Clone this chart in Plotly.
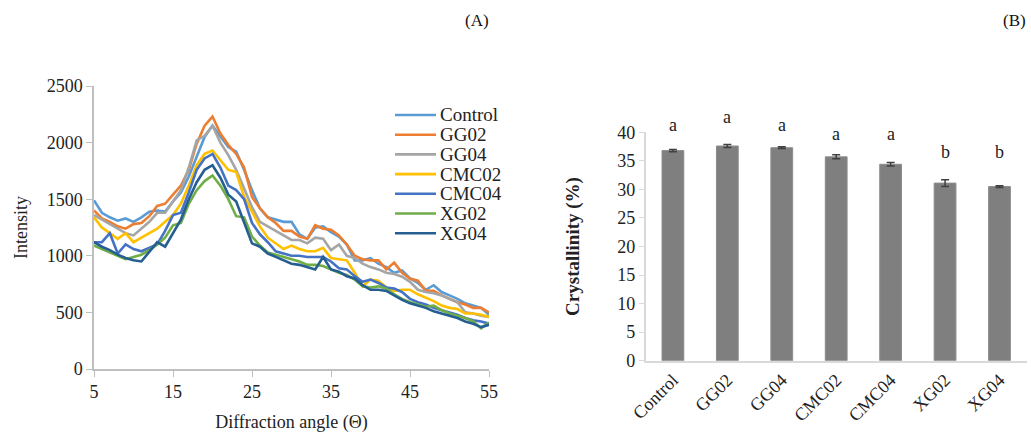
import plotly.graph_objects as go

angles = list(range(5, 56))

control = [1490, 1380, 1340, 1310, 1330, 1300, 1340, 1390, 1400, 1390,
           1480, 1560, 1700, 1880, 2050, 2150, 2060, 1960, 1920, 1760,
           1580, 1420, 1340, 1320, 1300, 1300, 1190, 1150, 1250, 1260,
           1210, 1170, 1100, 960, 960, 980, 930, 900, 850, 870,
           800, 760, 700, 740, 680, 650, 620, 580, 560, 540, 480]
gg02 = [1400, 1330, 1300, 1260, 1240, 1280, 1290, 1350, 1440, 1460,
        1540, 1620, 1760, 1990, 2150, 2230, 2080, 1980, 1900, 1780,
        1520, 1420, 1340, 1290, 1220, 1220, 1170, 1150, 1270, 1240,
        1230, 1180, 1100, 1000, 970, 960, 960, 880, 940, 850,
        800, 780, 690, 690, 650, 620, 590, 570, 540, 540, 500]
gg04 = [1360, 1320, 1280, 1240, 1200, 1180, 1240, 1300, 1380, 1380,
        1480, 1580, 1780, 2020, 2060, 2150, 2000, 1890, 1760, 1600,
        1430, 1300, 1260, 1220, 1180, 1140, 1140, 1110, 1160, 1150,
        1050, 1100, 1000, 980, 930, 900, 880, 850, 840, 815,
        770, 700, 680, 670, 650, 620, 590, 500, 490, 470, 460]
cmc02 = [1340, 1250, 1200, 1150, 1200, 1120, 1160, 1200, 1240, 1300,
         1360, 1460, 1620, 1800, 1900, 1930, 1840, 1760, 1740, 1520,
         1390, 1260, 1160, 1110, 1060, 1090, 1060, 1040, 1040, 1070,
         980, 970, 960, 850, 730, 790, 780, 720, 690, 700,
         700, 660, 630, 600, 560, 540, 530, 490, 490, 480, 460]
cmc04 = [1120, 1120, 1200, 1020, 1100, 1060, 1040, 1070, 1100, 1220,
         1360, 1380, 1560, 1760, 1860, 1900, 1780, 1620, 1580, 1500,
         1290, 1190, 1120, 1040, 1020, 1000, 1000, 990, 990, 990,
         950, 890, 880, 820, 770, 790, 760, 720, 710, 680,
         620, 590, 570, 540, 520, 500, 480, 450, 430, 420, 400]
xg02 = [1090, 1060, 1030, 1000, 970, 990, 1010, 1050, 1100, 1160,
        1270, 1290, 1460, 1580, 1660, 1710, 1620, 1500, 1350, 1340,
        1170, 1090, 1030, 1010, 990, 970, 950, 920, 920, 910,
        880, 850, 830, 790, 730, 720, 730, 710, 660, 620,
        590, 570, 550, 560, 520, 490, 470, 450, 420, 360, 410]
xg04 = [1120, 1080, 1050, 1010, 980, 960, 950, 1030, 1120, 1080,
        1200, 1320, 1500, 1650, 1760, 1800, 1690, 1540, 1480, 1300,
        1110, 1080, 1020, 990, 960, 930, 920, 900, 880, 990,
        880, 860, 820, 800, 740, 700, 700, 690, 650, 610,
        580, 560, 540, 510, 490, 470, 450, 420, 400, 370, 390]

series_names = ["Control", "GG02", "GG04", "CMC02", "CMC04", "XG02", "XG04"]
series_values = [control, gg02, gg04, cmc02, cmc04, xg02, xg04]
series_colors = ["#5B9BD5", "#ED7D31", "#A5A5A5", "#FFC000", "#4472C4", "#70AD47", "#255E91"]

bar_categories = ["Control", "GG02", "GG04", "CMC02", "CMC04", "XG02", "XG04"]
crystallinity = [36.8, 37.6, 37.3, 35.7, 34.4, 31.1, 30.5]
cryst_err = [0.2, 0.25, 0.15, 0.35, 0.3, 0.6, 0.15]
sig_letters = ["a", "a", "a", "a", "a", "b", "b"]
letter_y = [41.3, 42.7, 41.3, 39.7, 39.7, 36.6, 36.6]

FONT = "Liberation Serif"
W, H = 1031, 433
TXT = "#222222"


def px(x):
    return x / W


def py(y):
    return 1 - y / H


fig = go.Figure()
for name, vals, col in zip(series_names, series_values, series_colors):
    fig.add_trace(go.Scatter(x=angles, y=vals, mode="lines", name=name,
                             line=dict(color=col, width=2.6),
                             xaxis="x", yaxis="y", showlegend=False))

fig.add_trace(go.Bar(x=bar_categories, y=crystallinity, xaxis="x2", yaxis="y2",
                     marker=dict(color="#7F7F7F", line=dict(color="#8C8C8C", width=1)),
                     error_y=dict(type="data", array=cryst_err, visible=True,
                                  color="#404040", thickness=1.5, width=4),
                     showlegend=False))

y2_max = 40.0
for cat, ly, lt in zip(bar_categories, letter_y, sig_letters):
    fig.add_annotation(x=cat, y=ly / y2_max, xref="x2", yref="y2 domain", text=lt,
                       xanchor="center", yanchor="middle",
                       showarrow=False, font=dict(family=FONT, size=18, color=TXT))

# manual legend (line samples + labels)
leg_top = 115
leg_step = 19.7
for i, (name, col) in enumerate(zip(series_names, series_colors)):
    yy = py(leg_top + i * leg_step)
    fig.add_shape(type="line", xref="paper", yref="paper",
                  x0=px(395), x1=px(436), y0=yy, y1=yy,
                  line=dict(color=col, width=2.6))
    fig.add_annotation(x=px(438), y=yy, xref="paper", yref="paper", text=name,
                       xanchor="left", yanchor="middle", showarrow=False,
                       font=dict(family=FONT, size=19, color=TXT))

fig.add_annotation(x=px(477), y=py(20), xref="paper", yref="paper", text="(A)",
                   xanchor="center", yanchor="middle",
                   showarrow=False, font=dict(family=FONT, size=17, color="#111111"))
fig.add_annotation(x=px(1014), y=py(20), xref="paper", yref="paper", text="(B)",
                   xanchor="center", yanchor="middle",
                   showarrow=False, font=dict(family=FONT, size=17, color="#111111"))

axis_font = dict(family=FONT, size=18, color=TXT)

fig.update_layout(
    width=W, height=H,
    margin=dict(l=0, r=0, t=0, b=0, autoexpand=False),
    paper_bgcolor="white", plot_bgcolor="white",
    font=dict(family=FONT, size=18, color=TXT),
    xaxis=dict(domain=[px(94), px(489)], range=[5, 55], tickvals=[5, 15, 25, 35, 45, 55],
               showgrid=False, zeroline=False, showline=True, linecolor="#BFBFBF", linewidth=1.5,
               ticks="outside", ticklen=6, tickcolor="#BFBFBF", tickfont=axis_font,
               title=dict(text="Diffraction angle (Θ)", font=axis_font, standoff=16),
               automargin=False, anchor="y"),
    yaxis=dict(domain=[py(369), py(86)], range=[0, 2500], dtick=500,
               showgrid=False, zeroline=False, showline=True, linecolor="#BFBFBF", linewidth=1.5,
               ticks="outside", ticklen=6, tickcolor="#BFBFBF", tickfont=axis_font,
               title=dict(text="Intensity", font=axis_font, standoff=14),
               automargin=False, anchor="x"),
    xaxis2=dict(domain=[px(645.7), px(1026.7)], showgrid=False, zeroline=False,
                showline=True, linecolor="#D9D9D9", linewidth=1.5, ticks="",
                tickangle=-45, tickfont=axis_font, automargin=False, anchor="y2"),
    yaxis2=dict(domain=[py(360.7), py(132.3)], range=[0, y2_max], dtick=5,
                showgrid=False, zeroline=False, showline=True, linecolor="#D9D9D9", linewidth=1.5,
                ticks="outside", ticklen=5, tickcolor="#D9D9D9", tickfont=axis_font,
                title=dict(text="<b>Crystallinity (%)</b>",
                           font=dict(family=FONT, size=19, color=TXT), standoff=33),
                automargin=False, anchor="x2"),
    bargap=0.6,
    showlegend=False,
)

fig.write_html("out.html",
               config={"displayModeBar": False},
               post_script="document.body.style.margin='0px';document.body.style.overflow='hidden';")
